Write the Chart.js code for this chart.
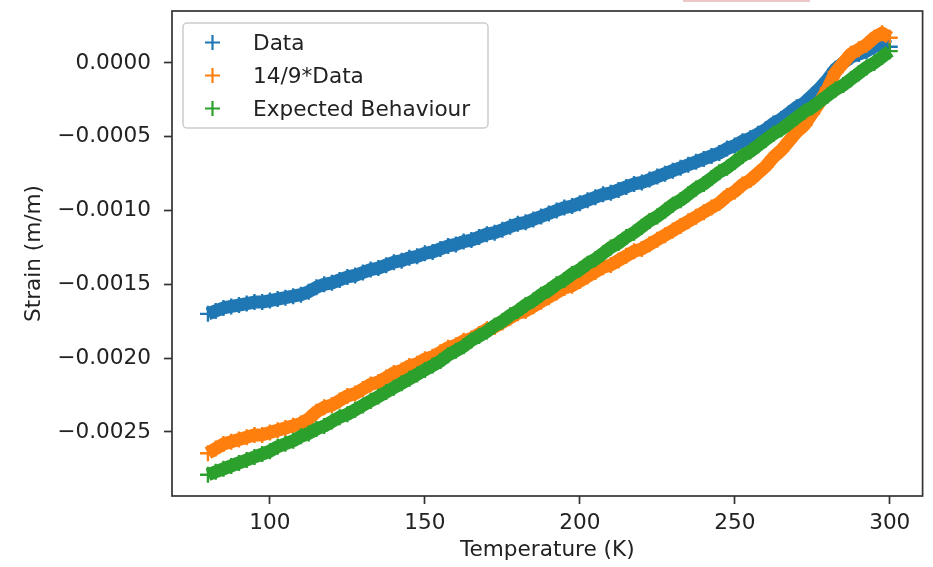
<!DOCTYPE html>
<html>
<head>
<meta charset="utf-8">
<script src="https://cdn.jsdelivr.net/npm/chart.js@4.4.1/dist/chart.umd.min.js"></script>
<style>
  html, body { margin: 0; padding: 0; background: #fff; }
  canvas { display: block; }
</style>
</head>
<body>
<canvas id="chart" width="933" height="567"></canvas>
<script>
// Temperatures (K), shared by the three series
const temperature = [
  80, 82.5, 85, 87.5, 90, 92.5, 95, 97.5, 100, 102.5,
  105, 107.5, 110, 112.5, 115, 117.5, 120, 122.5, 125, 127.5,
  130, 132.5, 135, 137.5, 140, 142.5, 145, 147.5, 150, 152.5,
  155, 157.5, 160, 162.5, 165, 167.5, 170, 172.5, 175, 177.5,
  180, 182.5, 185, 187.5, 190, 192.5, 195, 197.5, 200, 202.5,
  205, 207.5, 210, 212.5, 215, 217.5, 220, 222.5, 225, 227.5,
  230, 232.5, 235, 237.5, 240, 242.5, 245, 247.5, 250, 252.5,
  255, 257.5, 260, 262.5, 265, 267.5, 270, 272.5, 275, 277.5,
  280, 282.5, 285, 287.5, 290, 292.5, 295, 297.5, 300
];

// Measured strain (m/m)
const strainData = [
  -0.00170, -0.00168, -0.00166, -0.00165, -0.00164, -0.00163, -0.00162, -0.00162, -0.00161, -0.00160,
  -0.00159, -0.00158, -0.00157, -0.00155, -0.00152, -0.00150, -0.00149, -0.00147, -0.00145, -0.00144,
  -0.00142, -0.00140, -0.00139, -0.00137, -0.00135, -0.00134, -0.00132, -0.00131, -0.00129, -0.00128,
  -0.00126, -0.00124, -0.00123, -0.00121, -0.00120, -0.00118, -0.00116, -0.00115, -0.00113, -0.00111,
  -0.00109, -0.00108, -0.00106, -0.00104, -0.00102, -0.00100, -0.00098, -0.00097, -0.00095, -0.00093,
  -0.00091, -0.00089, -0.00088, -0.00086, -0.00084, -0.00082, -0.00081, -0.00079, -0.00077, -0.00075,
  -0.00073, -0.00071, -0.00069, -0.00067, -0.00065, -0.00063, -0.00061, -0.00058, -0.00056, -0.00053,
  -0.00051, -0.00048, -0.00045, -0.00041, -0.00038, -0.00034, -0.00030, -0.00027, -0.00022, -0.00017,
  -0.00011, -0.00004, 0.00000, 0.00004, 0.00006, 0.00008, 0.00011, 0.00013, 0.00011
];

// 14/9 * Data
const strainScaled = [
  -0.002644, -0.002613, -0.002582, -0.002567, -0.002551, -0.002536, -0.00252, -0.00252, -0.002504, -0.002489,
  -0.002473, -0.002458, -0.002442, -0.002411, -0.002364, -0.002333, -0.002318, -0.002287, -0.002256, -0.00224,
  -0.002209, -0.002178, -0.002162, -0.002131, -0.0021, -0.002084, -0.002053, -0.002038, -0.002007, -0.001991,
  -0.00196, -0.001929, -0.001913, -0.001882, -0.001867, -0.001836, -0.001804, -0.001789, -0.001758, -0.001727,
  -0.001696, -0.00168, -0.001649, -0.001618, -0.001587, -0.001556, -0.001524, -0.001509, -0.001478, -0.001447,
  -0.001416, -0.001384, -0.001369, -0.001338, -0.001307, -0.001276, -0.00126, -0.001229, -0.001198, -0.001167,
  -0.001136, -0.001104, -0.001073, -0.001042, -0.001011, -0.00098, -0.000949, -0.000902, -0.000871, -0.000824,
  -0.000793, -0.000747, -0.0007, -0.000638, -0.000591, -0.000529, -0.000467, -0.00042, -0.000342, -0.000264,
  -0.000171, -0.000062, 0, 0.000062, 0.000093, 0.000124, 0.000171, 0.000202, 0.000171
];

// Expected behaviour
const strainExpected = [
  -0.00279, -0.00277, -0.00275, -0.00273, -0.00271, -0.00269, -0.00267, -0.00265, -0.00263, -0.00260,
  -0.00258, -0.00256, -0.00253, -0.00251, -0.00248, -0.00246, -0.00243, -0.00240, -0.00238, -0.00235,
  -0.00232, -0.00229, -0.00226, -0.00223, -0.00220, -0.00217, -0.00214, -0.00211, -0.00208, -0.00205,
  -0.00202, -0.00198, -0.00195, -0.00192, -0.00188, -0.00185, -0.00182, -0.00178, -0.00175, -0.00171,
  -0.00168, -0.00164, -0.00161, -0.00157, -0.00154, -0.00150, -0.00147, -0.00143, -0.00140, -0.00136,
  -0.00133, -0.00129, -0.00125, -0.00122, -0.00118, -0.00115, -0.00111, -0.00107, -0.00104, -0.00100,
  -0.00096, -0.00093, -0.00089, -0.00085, -0.00082, -0.00078, -0.00074, -0.00071, -0.00067, -0.00063,
  -0.00060, -0.00056, -0.00052, -0.00048, -0.00045, -0.00041, -0.00037, -0.00033, -0.00030, -0.00026,
  -0.00022, -0.00018, -0.00015, -0.00011, -0.00007, -0.00003, 0.00000, 0.00004, 0.00008
];

const seriesLabels = ['Data', '14/9*Data', 'Expected Behaviour'];
const xTicks = [100, 150, 200, 250, 300];
const yTicks = [0, -0.0005, -0.0010, -0.0015, -0.0020, -0.0025];

const COLORS = ['#1f77b4', '#ff7f0e', '#2ca02c'];
const FONT = 'DejaVu Sans';
const TEXT = '#222';

const toPoints = ys => temperature.map((t, i) => ({ x: t, y: ys[i] }));

function series(label, ys, color, order) {
  return {
    label,
    data: toPoints(ys),
    showLine: true,
    borderColor: color,
    backgroundColor: color,
    borderWidth: 13,
    borderJoinStyle: 'round',
    tension: 0,
    pointStyle: 'cross',
    pointRadius: 8,
    pointBorderWidth: 2.4,
    pointBorderColor: color,
    order
  };
}

// box round the plot, drawn over the markers like matplotlib spines
const framePlugin = {
  id: 'frame',
  afterDatasetsDraw(chart) {
    const { ctx, chartArea: a } = chart;
    ctx.save();
    ctx.strokeStyle = '#333';
    ctx.lineWidth = 1.7;
    ctx.strokeRect(a.left, a.top, a.right - a.left, a.bottom - a.top);
    ctx.restore();
  }
};

// matplotlib-like legend in upper left
const legendPlugin = {
  id: 'mplLegend',
  afterDraw(chart) {
    const ctx = chart.ctx;
    const x = 183, y = 23, w = 305, h = 105, r = 4;
    ctx.save();
    ctx.beginPath();
    ctx.roundRect(x, y, w, h, r);
    ctx.fillStyle = 'rgba(255,255,255,0.8)';
    ctx.fill();
    ctx.strokeStyle = '#cccccc';
    ctx.lineWidth = 1.5;
    ctx.stroke();

    ctx.font = '21.6px "' + FONT + '"';
    ctx.textBaseline = 'alphabetic';
    chart.data.datasets.forEach((ds, i) => {
      const cy = 42.5 + i * 33;
      ctx.strokeStyle = ds.borderColor;
      ctx.lineWidth = 2.2;
      ctx.beginPath();
      ctx.moveTo(212.5 - 7.5, cy); ctx.lineTo(212.5 + 7.5, cy);
      ctx.moveTo(212.5, cy - 7.5); ctx.lineTo(212.5, cy + 7.5);
      ctx.stroke();
      ctx.fillStyle = TEXT;
      ctx.fillText(ds.label, 253, cy + 7);
    });

    // thin pink strip at the top edge of the screenshot
    ctx.fillStyle = '#ebc9c9';
    ctx.fillRect(683, 0, 127, 2);
    ctx.restore();
  }
};

const tickFont = { family: FONT, size: 21.6 };

new Chart(document.getElementById('chart'), {
  type: 'scatter',
  data: {
    datasets: [
      series(seriesLabels[0], strainData, COLORS[0], 3),
      series(seriesLabels[1], strainScaled, COLORS[1], 2),
      series(seriesLabels[2], strainExpected, COLORS[2], 1)
    ]
  },
  options: {
    responsive: false,
    animation: false,
    events: [],
    layout: { padding: { top: 11, right: 10, bottom: 0, left: 0 } },
    plugins: {
      legend: { display: false },
      tooltip: { enabled: false }
    },
    scales: {
      x: {
        type: 'linear',
        min: 68.4,
        max: 310.6,
        afterBuildTicks: s => { s.ticks = xTicks.map(v => ({ value: v })); },
        afterFit: s => { s.height = 71; s.paddingLeft = 0; s.paddingRight = 0; },
        grid: { display: true, drawOnChartArea: false, drawTicks: true, tickLength: 8, tickWidth: 1.7, tickColor: '#333' },
        border: { display: false },
        ticks: { font: tickFont, color: TEXT, padding: 6, maxRotation: 0, autoSkip: false, callback: v => String(v) },
        title: { display: true, text: 'Temperature (K)', font: tickFont, color: TEXT, padding: { top: 0, bottom: 4 } }
      },
      y: {
        type: 'linear',
        min: -0.002934,
        max: 0.000352,
        afterBuildTicks: s => { s.ticks = yTicks.map(v => ({ value: v })); },
        afterFit: s => { s.width = 172; s.paddingTop = 0; s.paddingBottom = 0; },
        grid: { display: true, drawOnChartArea: false, drawTicks: true, tickLength: 8, tickWidth: 1.7, tickColor: '#333' },
        border: { display: false },
        ticks: {
          font: tickFont, color: TEXT, padding: 13, autoSkip: false,
          callback: v => v.toFixed(4).replace('-', '\u2212')
        },
        title: { display: true, text: 'Strain (m/m)', font: tickFont, color: TEXT, padding: { top: 21, bottom: 0 } }
      }
    }
  },
  plugins: [framePlugin, legendPlugin]
});
</script>
</body>
</html>
